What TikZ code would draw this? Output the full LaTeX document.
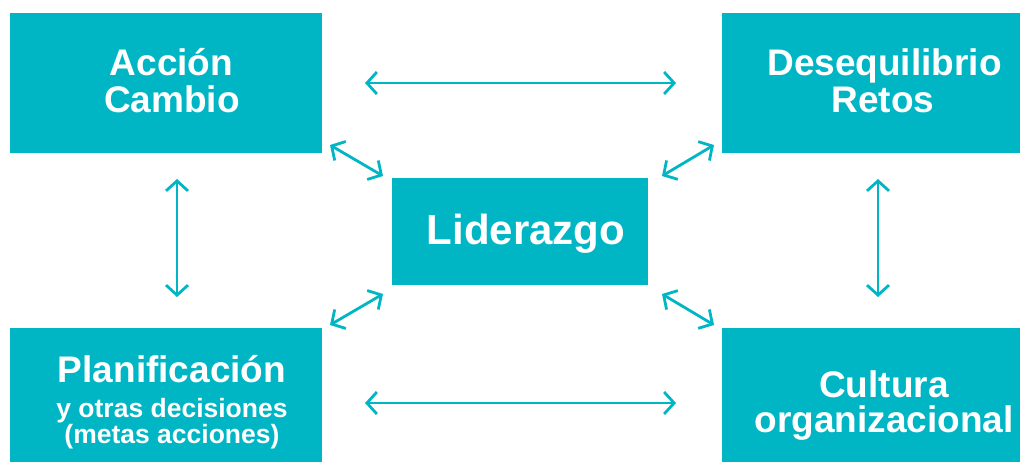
\documentclass[tikz,border=0pt]{standalone}
\usepackage{fontspec}
\setmainfont{Liberation Sans}
\usetikzlibrary{arrows.meta}
\definecolor{teal1}{HTML}{00B6C4}
\tikzset{
  box/.style={draw=none, fill=teal1, rectangle, inner sep=0pt},
  big/.style={text=white, anchor=base, inner sep=0pt, font=\bfseries\fontsize{37}{41}\selectfont},
  small/.style={text=white, anchor=base, inner sep=0pt, font=\bfseries\fontsize{26.5}{30}\selectfont},
  huge/.style={text=white, anchor=base, inner sep=0pt, font=\bfseries\fontsize{42}{46}\selectfont},
  link/.style={draw=teal1, line width=2.8pt, {Straight Barb[length=10pt,width=22pt]}-{Straight Barb[length=10pt,width=22pt]}}
}
\begin{document}
\begin{tikzpicture}[x=1pt,y=-1pt]
\useasboundingbox (0,0) rectangle (1020,462);
% boxes
\node[box, minimum width=312pt, minimum height=140pt] (tl) at (166,83) {};
\node[box, minimum width=298pt, minimum height=140pt] (tr) at (871,83) {};
\node[box, minimum width=256pt, minimum height=107pt] (c) at (520,231.5) {};
\node[box, minimum width=312pt, minimum height=134pt] (bl) at (166,395) {};
\node[box, minimum width=298pt, minimum height=134pt] (br) at (871,395) {};
% texts
\node[big] (tl1) at (171.5,76) {Acción};
\node[big] (tl2) at (172,113) {Cambio};
\node[big] (tr1) at (884.5,76) {Desequilibrio};
\node[big] (tr2) at (883,113) {Retos};
\node[huge] (c1) at (526,245) {Liderazgo};
\node[big] (bl1) at (172,382) {Planificación};
\node[small] (bl2) at (172,417) {y otras decisiones};
\node[small] (bl3) at (172,443) {(metas acciones)};
\node[big] (br1) at (884,397) {Cultura};
\node[big] (br2) at (884,432) {organizacional};
% arrow end points
\coordinate (h1a) at (365,83);  \coordinate (h1b) at (676,83);
\coordinate (h2a) at (365,403); \coordinate (h2b) at (676,403);
\coordinate (v1a) at (177,179); \coordinate (v1b) at (177,297);
\coordinate (v2a) at (878,179); \coordinate (v2b) at (878,297);
\coordinate (d1a) at (330,145); \coordinate (d1b) at (383,176);
\coordinate (d2a) at (714,145); \coordinate (d2b) at (662,176);
\coordinate (d3a) at (330,325); \coordinate (d3b) at (383,294);
\coordinate (d4a) at (714,325); \coordinate (d4b) at (662,294);
% arrows
\draw[link] (h1a) -- (h1b);
\draw[link] (h2a) -- (h2b);
\draw[link] (v1a) -- (v1b);
\draw[link] (v2a) -- (v2b);
\draw[link] (d1a) -- (d1b);
\draw[link] (d2a) -- (d2b);
\draw[link] (d3a) -- (d3b);
\draw[link] (d4a) -- (d4b);
\end{tikzpicture}
\end{document}
